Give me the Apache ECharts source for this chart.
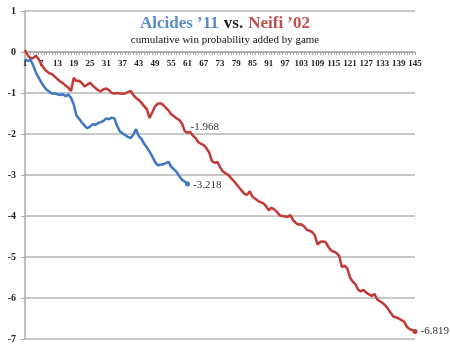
<!DOCTYPE html>
<html>
<head>
<meta charset="utf-8">
<script src="https://cdn.jsdelivr.net/npm/echarts@6/dist/echarts.min.js"></script>
<style>html,body{margin:0;padding:0;background:#fff;}#c{width:450px;height:352px;}</style>
</head>
<body>
<div id="c"></div>
<script>
// Games (x categories)
const games = [];
for (let i = 1; i <= 145; i++) games.push(String(i));

// Alcides '11 cumulative WPA by game (61 games)
const alcides = [-0.17,-0.22,-0.19,-0.32,-0.50,-0.62,-0.74,-0.84,-0.92,-0.97,
  -1.02,-1.01,-1.03,-1.05,-1.03,-1.08,-1.04,-1.12,-1.28,-1.55,
  -1.63,-1.72,-1.80,-1.86,-1.82,-1.76,-1.78,-1.73,-1.71,-1.68,
  -1.62,-1.64,-1.60,-1.62,-1.80,-1.93,-1.98,-2.03,-2.07,-2.10,
  -2.02,-1.88,-2.05,-2.12,-2.24,-2.33,-2.43,-2.55,-2.68,-2.76,
  -2.75,-2.74,-2.71,-2.68,-2.80,-2.86,-2.93,-3.03,-3.12,-3.16,
  -3.218];

// Neifi '02 cumulative WPA by game (145 games)
const neifi = [0.05,-0.08,-0.15,-0.15,-0.09,-0.17,-0.30,-0.40,-0.47,-0.52,
  -0.54,-0.60,-0.66,-0.72,-0.76,-0.82,-0.87,-0.95,-0.63,-0.71,
  -0.70,-0.76,-0.84,-0.80,-0.75,-0.82,-0.88,-0.93,-0.96,-0.91,
  -0.89,-0.93,-1.00,-1.01,-1.00,-1.01,-1.02,-1.01,-0.98,-0.95,
  -1.05,-1.12,-1.17,-1.24,-1.32,-1.40,-1.61,-1.47,-1.33,-1.26,
  -1.25,-1.29,-1.36,-1.43,-1.52,-1.57,-1.62,-1.66,-1.75,-1.93,
  -1.968,-1.95,-2.04,-2.10,-2.20,-2.24,-2.27,-2.35,-2.45,-2.66,
  -2.70,-2.68,-2.80,-2.91,-2.96,-2.99,-3.07,-3.14,-3.22,-3.30,
  -3.38,-3.46,-3.48,-3.40,-3.53,-3.58,-3.63,-3.66,-3.69,-3.76,
  -3.86,-3.80,-3.84,-3.90,-3.98,-4.00,-4.01,-4.02,-3.98,-4.10,
  -4.17,-4.21,-4.20,-4.25,-4.33,-4.36,-4.39,-4.47,-4.70,-4.63,
  -4.62,-4.64,-4.75,-4.84,-4.87,-4.90,-4.97,-5.25,-5.21,-5.28,
  -5.50,-5.60,-5.66,-5.80,-5.84,-5.80,-5.87,-5.91,-5.95,-5.90,
  -6.03,-6.08,-6.12,-6.18,-6.26,-6.36,-6.45,-6.47,-6.50,-6.54,
  -6.58,-6.70,-6.76,-6.78,-6.819];

// y-axis range
const yMin = -7, yMax = 1;

// Indices (0-based) of labelled points
const neifiLabelIdx = [60, 144];
const alcidesLabelIdx = [60];

const BLUE = '#3f77c3';
const RED = '#c23a36';
const SERIF = "'Liberation Serif', 'Times New Roman', serif";

const GRID = {left: 25, right: 35, top: 11, bottom: 13};
const gridH = 352 - GRID.top - GRID.bottom;
// place the category axis on the zero line
const zeroOffset = -gridH * (0 - yMin) / (yMax - yMin);

function withLabels(arr, idxs, offsets, marker) {
  return arr.map((v, i) => {
    const k = idxs.indexOf(i);
    if (k < 0) return v;
    return {
      value: v,
      symbol: 'circle', symbolSize: marker[k],
      label: {
        show: true, position: 'right', offset: offsets[k], distance: 3,
        formatter: String(v), fontFamily: SERIF, fontSize: 11, color: '#333'
      }
    };
  });
}

const chart = echarts.init(document.getElementById('c'), null, {renderer: 'canvas'});
chart.setOption({
  animation: false,
  backgroundColor: '#fff',
  title: [{
    left: 'center', top: 10,
    text: '{a|Alcides ’11} {b|vs.} {c|Neifi ’02}',
    textStyle: {
      rich: {
        a: {color: '#5a8ccc', fontFamily: SERIF, fontSize: 17},
        b: {color: '#222', fontFamily: SERIF, fontSize: 17},
        c: {color: '#c0504d', fontFamily: SERIF, fontSize: 17}
      }
    }
  }, {
    left: 'center', top: 30,
    text: 'cumulative win probability added by game',
    textStyle: {color: '#111', fontFamily: SERIF, fontSize: 11, fontWeight: 'normal'}
  }],
  grid: Object.assign({containLabel: false}, GRID),
  xAxis: {
    type: 'category', data: games, boundaryGap: false,
    position: 'bottom', offset: zeroOffset,
    axisLine: {onZero: false, lineStyle: {color: '#aaa', width: 1.5}},
    axisTick: {show: true, interval: 0, length: 3, lineStyle: {color: '#aaa'}},
    axisLabel: {interval: 5, fontFamily: SERIF, fontSize: 9, color: '#222', margin: 7,
      fontWeight: 'bold', hideOverlap: false, showMaxLabel: true, showMinLabel: true},
    splitLine: {show: false}
  },
  yAxis: {
    type: 'value', min: yMin, max: yMax, interval: 1,
    axisLine: {show: true, lineStyle: {color: '#aaa', width: 1.5}},
    axisTick: {show: true, length: 4, lineStyle: {color: '#aaa'}},
    axisLabel: {fontFamily: SERIF, fontSize: 10, color: '#222', margin: 9, fontWeight: 'bold'},
    splitLine: {show: true, lineStyle: {color: '#b5b5b5', width: 1.5}}
  },
  series: [{
    name: 'Neifi ’02', type: 'line', showSymbol: true, symbol: 'circle', symbolSize: 0,
    data: withLabels(neifi, neifiLabelIdx, [[0, -6], [0, 0]], [0, 5]),
    lineStyle: {color: RED, width: 2.5}, itemStyle: {color: RED}
  }, {
    name: 'Alcides ’11', type: 'line', showSymbol: true, symbol: 'circle', symbolSize: 0,
    data: withLabels(alcides, alcidesLabelIdx, [[0, 1]], [5]),
    lineStyle: {color: BLUE, width: 2.5}, itemStyle: {color: BLUE}
  }]
});
</script>
</body>
</html>
